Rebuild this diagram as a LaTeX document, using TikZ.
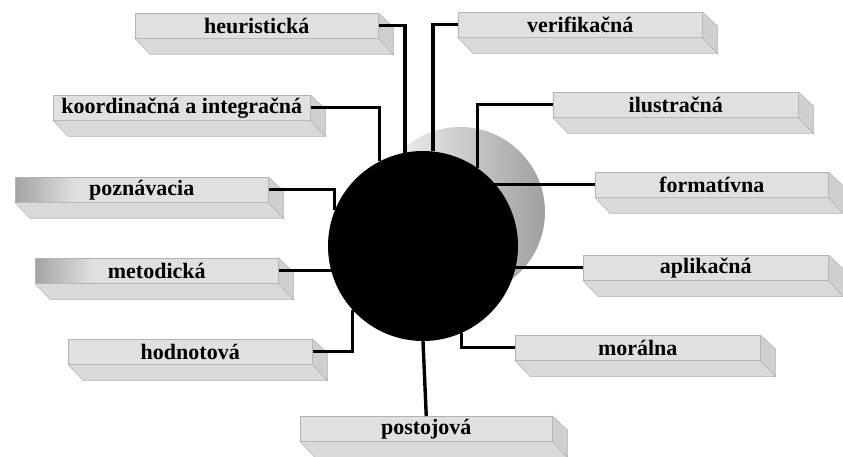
\documentclass[tikz,border=0pt]{standalone}
\usepackage{fontspec}
\setmainfont{Liberation Serif}
\pgfdeclarehorizontalshading{barfade}{100bp}{color(0bp)=(gray!72); color(25bp)=(gray!72); color(37bp)=(gray!24); color(100bp)=(gray!24)}
\tikzset{
  funcbar/.style={draw=gray!60, fill=gray!24, line width=0.5pt, anchor=north west,
    minimum height=25pt, inner sep=0pt, font=\bfseries\fontsize{22}{25}\selectfont},
  fadebar/.style={funcbar, shade, shading=barfade},
  barbottom/.style={draw=gray!60, fill=gray!30, line width=0.5pt},
  barside/.style={draw=gray!60, fill=gray!38, line width=0.5pt},
  conn/.style={line width=3.4pt, black}
}
\begin{document}
\begin{tikzpicture}[x=1pt, y=-1pt]
\useasboundingbox (0,0) rectangle (843,457);
% shaded ball behind
\shade[left color=gray!5, right color=gray!75] (460,212) circle [radius=85];
\node[circle, fill=black, minimum size=190pt, inner sep=0pt] (core) at (423,246) {};
% left column
\node[funcbar, minimum width=243pt] (heur) at (135,13) {heuristická};
\node[funcbar, minimum width=257pt] (koor) at (53,95) {koordinačná a integračná};
\node[fadebar, minimum width=253pt] (pozn) at (15,177) {poznávacia};
\node[fadebar, minimum width=243pt] (meto) at (35,258) {metodická};
\node[funcbar, minimum width=244pt] (hodn) at (68,339) {hodnotová};
\node[funcbar, minimum width=252pt] (post) at (300,416) {postojová};
% right column
\node[funcbar, minimum width=244pt] (veri) at (458,12) {verifikačná};
\node[funcbar, minimum width=245pt] (ilus) at (553,92) {ilustračná};
\node[funcbar, minimum width=233pt] (form) at (595,172) {formatívna};
\node[funcbar, minimum width=245pt] (apli) at (583,255) {aplikačná};
\node[funcbar, minimum width=245pt] (mora) at (515,335) {morálna};
% bevel faces
\foreach \n in {heur,koor,pozn,meto,hodn,post,veri,ilus,form,apli,mora} {
  \path[barbottom] (\n.south west) -- (\n.south east) -- ([xshift=15pt,yshift=-16pt]\n.south east)
    -- ([xshift=15pt,yshift=-16pt]\n.south west) -- cycle;
  \path[barside] (\n.north east) -- ([xshift=15pt,yshift=-14pt]\n.north east)
    -- ([xshift=15pt,yshift=-16pt]\n.south east) -- (\n.south east) -- cycle;
}
% connectors
\draw[conn] (heur.east) -| (core.101);
\draw[conn] (koor.east) -| (core.117);
\draw[conn] (pozn.east) -| (core.158);
\draw[conn] (meto.east) -- (meto.east -| core.center);
\draw[conn] (hodn.east) -| (core.222);
\draw[conn] (core.south) -- (post.north);
\draw[conn] (veri.west) -| (core.84);
\draw[conn] (ilus.west) -| (core.55);
\draw[conn] (form.west) -- (form.west -| core.center);
\draw[conn] (apli.west) -- (apli.west -| core.center);
\draw[conn] (mora.west) -| (core.294);
\end{tikzpicture}
\end{document}
